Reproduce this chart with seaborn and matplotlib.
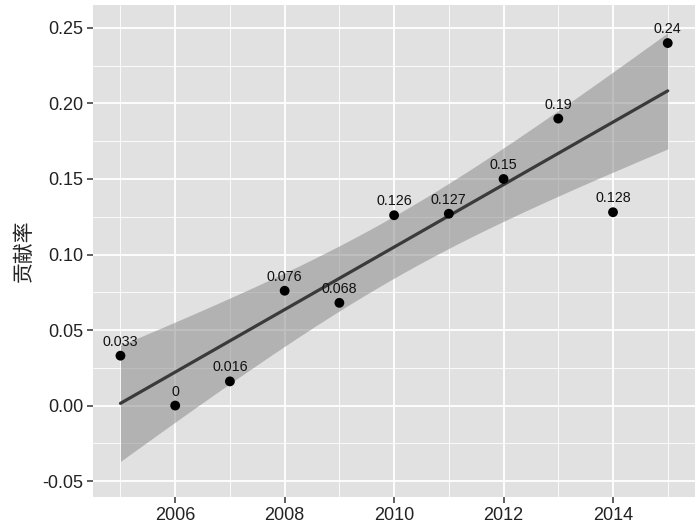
import matplotlib
matplotlib.use("Agg")
import matplotlib.pyplot as plt
import numpy as np
import pandas as pd
import seaborn as sns
from matplotlib.ticker import MultipleLocator

# contribution rate by year
years = [2005, 2006, 2007, 2008, 2009, 2010, 2011, 2012, 2013, 2014, 2015]
rates = [0.033, 0.0, 0.016, 0.076, 0.068, 0.126, 0.127, 0.15, 0.19, 0.128, 0.24]
y_label = "贡献率"

df = pd.DataFrame({"year": years, "rate": rates})

sns.set_theme(style="darkgrid", rc={
    "axes.facecolor": "#E1E1E1",
    "grid.color": "white",
})
plt.rcParams["font.family"] = ["Liberation Sans", "Noto Sans CJK SC", "DejaVu Sans"]

# linear fit with 95% confidence band (same as geom_smooth(method="lm"))
x = df["year"].to_numpy(float)
y = df["rate"].to_numpy(float)
n = len(x)
b1, b0 = np.polyfit(x, y, 1)
resid = y - (b0 + b1 * x)
s = np.sqrt(np.sum(resid ** 2) / (n - 2))
t_crit = 2.262157  # t(0.975, df=9)
xs = np.linspace(x.min(), x.max(), 80)
fit = b0 + b1 * xs
se = s * np.sqrt(1 / n + (xs - x.mean()) ** 2 / np.sum((x - x.mean()) ** 2))
lo, hi = fit - t_crit * se, fit + t_crit * se

fig = plt.figure(figsize=(7, 5.26), dpi=100)
ax = fig.add_axes([0.133, 0.055, 0.86, 0.9355])

ax.fill_between(xs, lo, hi, color="#8C8C8C", alpha=0.55, linewidth=0, zorder=2)
sns.lineplot(x=xs, y=fit, ax=ax, color="#3A3A3A", linewidth=2.3, zorder=3)
sns.scatterplot(data=df, x="year", y="rate", ax=ax, color="black", s=50,
                edgecolor="none", zorder=4)
for xi, yi in zip(years, rates):
    ax.annotate(f"{yi:g}", (xi, yi), xytext=(0, 5), textcoords="offset points",
                ha="center", va="bottom", fontsize=10.3, color="#111111", zorder=5)

ax.set_xlim(2004.5, 2015.5)
ax.set_ylim(-0.0606, 0.2652)
ax.xaxis.set_minor_locator(MultipleLocator(1))
ax.yaxis.set_major_locator(MultipleLocator(0.05))
ax.yaxis.set_minor_locator(MultipleLocator(0.025))
ax.yaxis.set_major_formatter(matplotlib.ticker.FormatStrFormatter("%.2f"))
ax.set_xticks([2006, 2008, 2010, 2012, 2014])
ax.grid(which="major", color="white", linewidth=1.3)
ax.grid(which="minor", color="white", linewidth=0.6)
ax.tick_params(which="major", length=4, width=1.1, color="#333333",
               labelsize=13, labelcolor="#222222", pad=3, bottom=True, left=True)
ax.tick_params(which="minor", length=0)
for sp in ax.spines.values():
    sp.set_visible(False)
ax.set_xlabel("")
ax.set_ylabel(y_label, fontsize=15, color="#222222", labelpad=6)

fig.savefig("out.png", dpi=100)
